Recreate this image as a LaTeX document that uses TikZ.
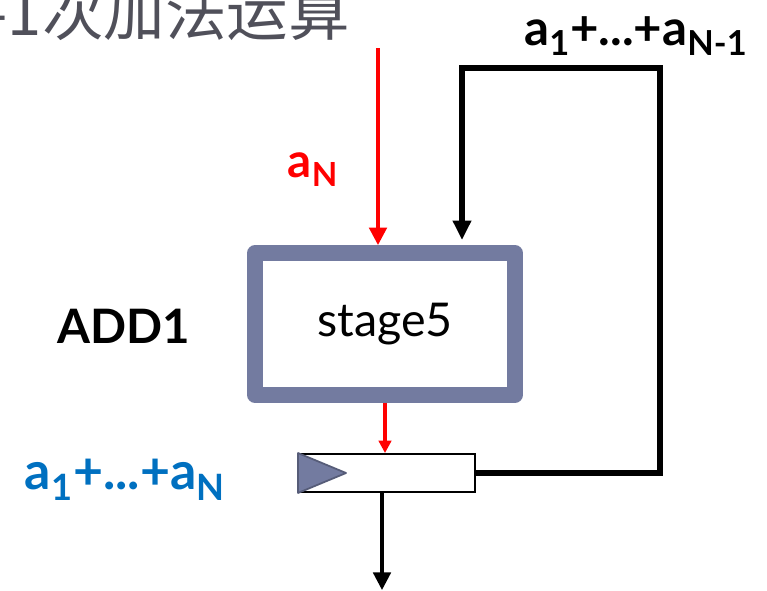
\documentclass[tikz,border=0pt]{standalone}
\usepackage{fontspec}
\setmainfont{Lato}
\newfontfamily\cjk{Noto Sans CJK SC}
\usetikzlibrary{arrows.meta,calc}
\definecolor{stagegray}{RGB}{115,123,160}
\definecolor{sumblue}{RGB}{0,112,192}
\definecolor{titlegray}{RGB}{80,80,90}

\begin{document}
\begin{tikzpicture}[x=0.2mm,y=-0.2mm,>={Triangle[length=10pt,width=10pt]},
  stagebox/.style={draw=stagegray,line width=9pt,line join=round,fill=white,
    minimum width=52mm,minimum height=28.4mm,font=\fontsize{26.5}{30}\selectfont},
  regbox/.style={draw=black,line width=1.1pt,fill=white,
    minimum width=35.2mm,minimum height=7.6mm,inner sep=0pt},
  insig/.style={red,line width=2pt},
  fbsig/.style={line width=3.4pt},
  lbl/.style={font=\bfseries\fontsize{#1}{#1}\selectfont}]
\useasboundingbox (0,0) rectangle (767,591);
\clip (0,0) rectangle (767,591);

% title, cut by the page
\node[anchor=base east,inner sep=0pt,text=titlegray,font=\cjk\fontsize{35}{40}\selectfont] (title) at (350,36) {-1次加法运算};

% adder and register
\node[stagebox] (stage) at (385,324) {stage5};
\node[regbox] (reg) at (387,473) {};
\filldraw[fill=stagegray,draw=stagegray!75!black,line width=1pt,line join=round]
  (reg.north west) -- ($(reg.west)+(48,0)$) -- (reg.south west) -- cycle;

% signals
\coordinate (ain) at (378,48);
\coordinate (fbtop) at (660,68);
\coordinate (fbin) at (462,240);
\coordinate (out) at (382,590);
\draw[insig,->] (ain) -- (ain |- stage.north);
\draw[insig,-{Triangle[length=7pt,width=7pt]}] (stage.south) -- (stage.south |- reg.north);
\draw[line width=1.8pt,->] (out |- reg.south) -- (out);
\draw[fbsig,-{Triangle[length=11pt,width=10pt]}] (reg.east) -| (fbtop) -| (fbin);

% labels
\node[lbl=27,text=red] (anlbl) at (313,170) {a\textsubscript{N}};
\node[lbl=28] (prevlbl) at (636,36) {a\textsubscript{1}+...+a\textsubscript{N-1}};
\node[lbl=27] (addlbl) at (124,326) {ADD1};
\node[lbl=29.5,text=sumblue] (sumlbl) at (125,480) {a\textsubscript{1}+...+a\textsubscript{N}};
\end{tikzpicture}
\end{document}
